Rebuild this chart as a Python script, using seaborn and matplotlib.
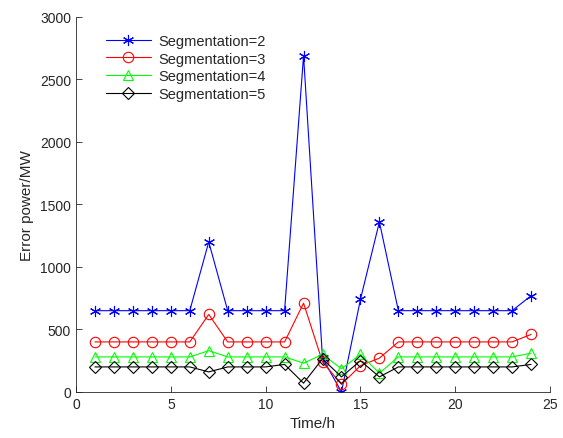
import pandas as pd
import matplotlib
matplotlib.use("Agg")
import matplotlib.pyplot as plt
import seaborn as sns

# hourly error power per segmentation level
hours = list(range(1, 25))
seg2 = [650, 650, 650, 650, 650, 650, 1200, 650, 650, 650, 650, 2690,
        270, 0, 740, 1360, 650, 650, 650, 650, 650, 650, 650, 770]
seg3 = [400, 400, 400, 400, 400, 400, 620, 400, 400, 400, 400, 710,
        240, 60, 210, 270, 400, 400, 400, 400, 400, 400, 400, 460]
seg4 = [280, 280, 280, 280, 280, 280, 330, 280, 280, 280, 280, 230,
        300, 185, 300, 150, 280, 280, 280, 280, 280, 280, 280, 310]
seg5 = [200, 200, 200, 200, 200, 200, 160, 200, 200, 200, 220, 70,
        265, 120, 250, 120, 200, 200, 200, 200, 200, 200, 200, 220]
labels = ["Segmentation=2", "Segmentation=3", "Segmentation=4", "Segmentation=5"]
colors = ["#0000ff", "#ff0000", "#00ff00", "#000000"]
marks = [(6, 2, 0), "o", "^", "D"]
msizes = [8, 7.5, 7.5, 6.5]

sns.set_theme(style="white")
plt.rcParams["font.family"] = ["Liberation Sans", "DejaVu Sans"]

fig = plt.figure(figsize=(5.63, 4.39), dpi=100)
ax = fig.add_axes([0.135, 0.105, 0.842, 0.854])

for lab, vals, c, m, ms in zip(labels, [seg2, seg3, seg4, seg5], colors, marks, msizes):
    df = pd.DataFrame({"Time": hours, "Error": vals})
    sns.lineplot(data=df, x="Time", y="Error", color=c, marker=m, markersize=ms,
                 markerfacecolor="none", markeredgecolor=c, markeredgewidth=0.8,
                 linewidth=0.8, label=lab, ax=ax)

ax.set_xlim(0, 25)
ax.set_ylim(0, 3000)
ax.set_xticks([0, 5, 10, 15, 20, 25])
ax.set_yticks([0, 500, 1000, 1500, 2000, 2500, 3000])
ax.set_xlabel("Time/h", fontsize=11, color="#262626")
ax.set_ylabel("Error power/MW", fontsize=11, color="#262626")
ax.tick_params(direction="in", length=4, width=0.6, labelsize=10,
               colors="#262626", top=False, right=False, bottom=True, left=True)
for s in ["top", "right"]:
    ax.spines[s].set_visible(False)
for s in ["left", "bottom"]:
    ax.spines[s].set_color("#262626")
    ax.spines[s].set_linewidth(0.6)

leg = ax.legend(loc="upper left", bbox_to_anchor=(0.035, 0.99), frameon=False,
                fontsize=10.5, handlelength=3.1, handletextpad=0.5, labelspacing=0.25)

fig.savefig("out.png", dpi=100)
